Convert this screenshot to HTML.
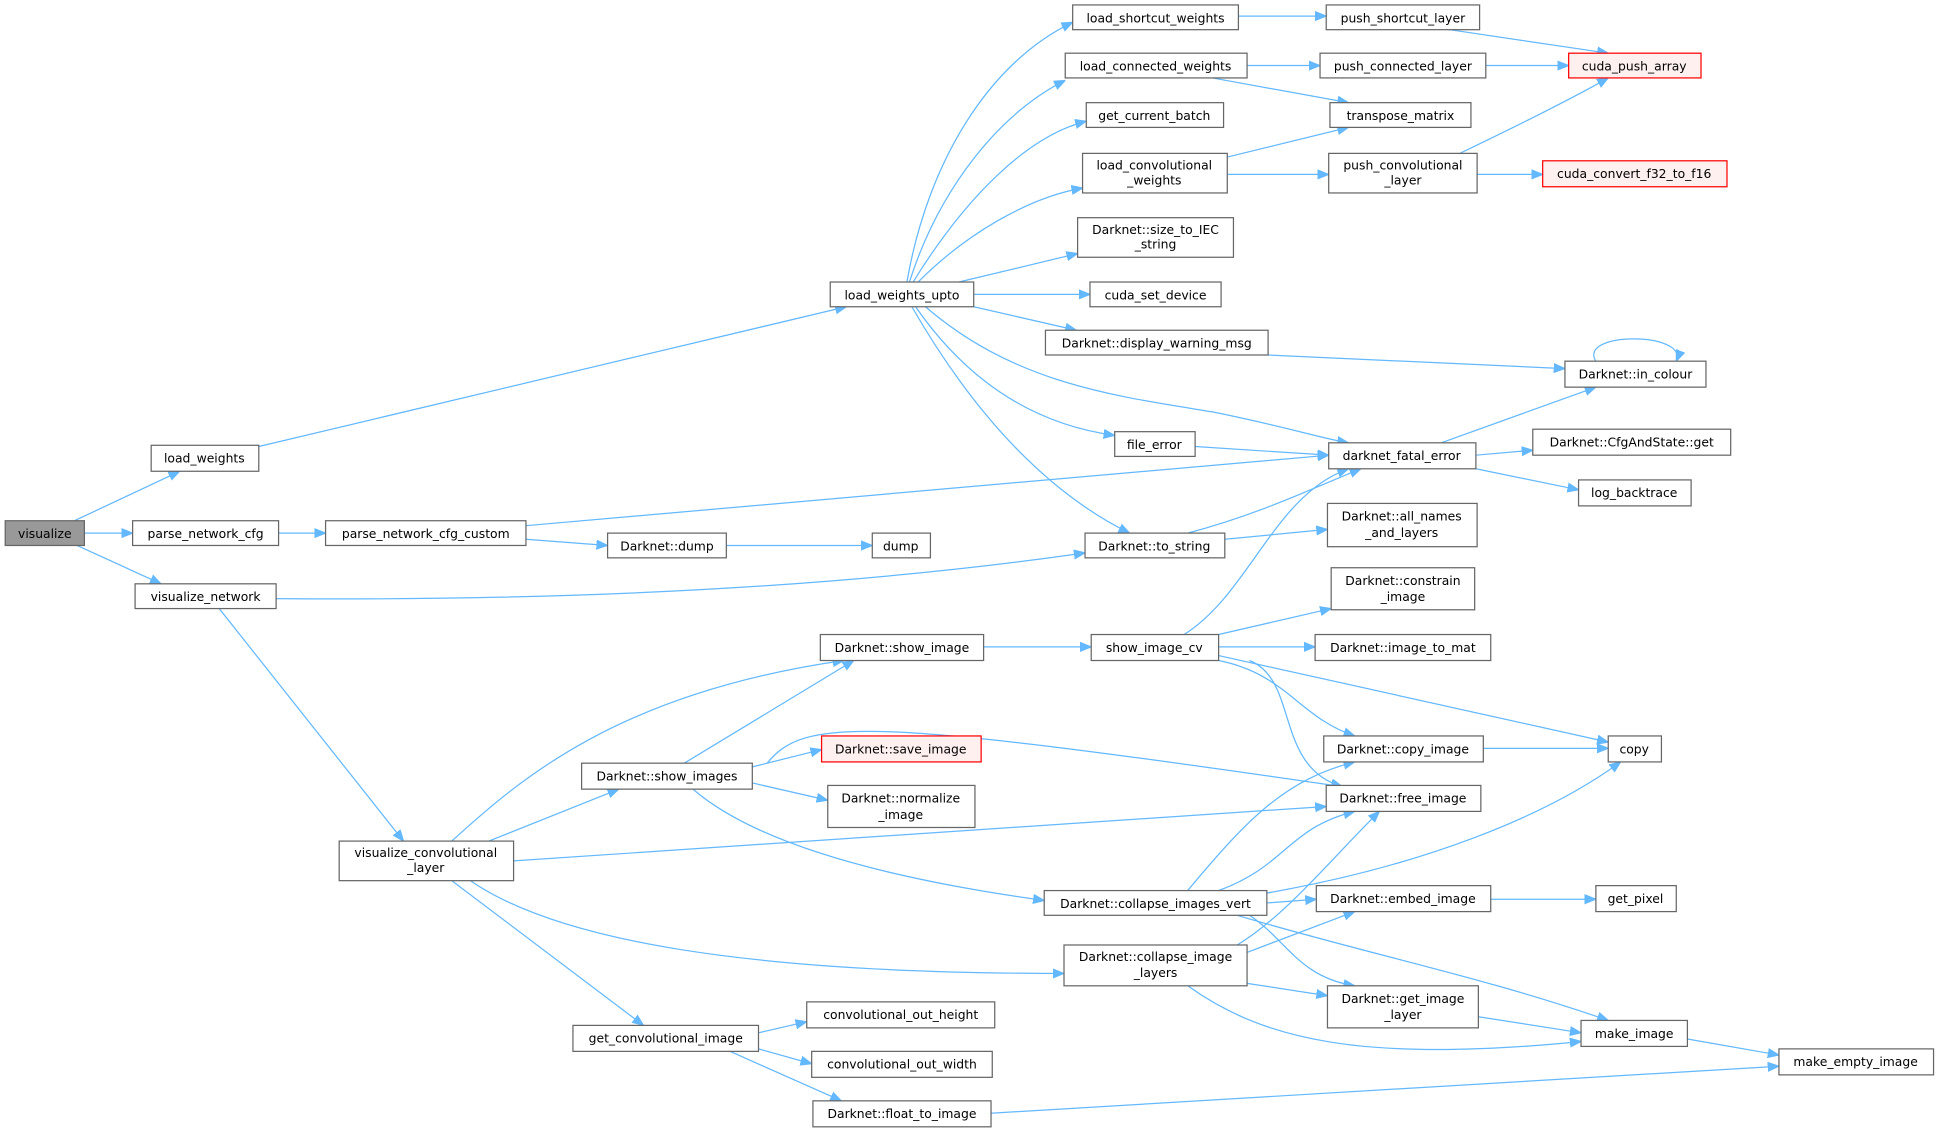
<!DOCTYPE html>
<html><head><meta charset="utf-8"><style>
html,body{margin:0;padding:0;background:#fff;}
svg{display:block;}
text{font-family:"DejaVu Sans","Liberation Sans",sans-serif;font-size:10px;fill:#000;text-anchor:middle;}
.n{fill:#fff;stroke:#666;stroke-width:1;}
.r{fill:#fff0f0;stroke:#f00;stroke-width:1;}
.g{fill:#999;stroke:#666;stroke-width:1;}
path{fill:none;stroke:#63b8ff;stroke-width:1;}
</style></head><body>
<svg width="1940" height="1133" viewBox="0 0 1568 916" xmlns="http://www.w3.org/2000/svg">
<defs><marker id="a" viewBox="0 0 10 10" refX="10" refY="5" markerWidth="9" markerHeight="9" markerUnits="userSpaceOnUse" orient="auto"><path d="M0,1 L10,5 L0,9 z" style="fill:#63b8ff;stroke:#63b8ff"/></marker></defs>
<g marker-end="url(#a)">
<path d="M60,421 L145,381"/>
<path d="M68,431 L107,431"/>
<path d="M62,441 L130,472"/>
<path d="M209,361 L684,248"/>
<path d="M225,431 L263,431"/>
<path d="M425,425 L1074,368"/>
<path d="M425,436 L491,441"/>
<path d="M587,441 L705,441"/>
<path d="M223,484 Q600,487 877,447"/>
<path d="M177,492 L326,680"/>
<path d="M733,228 C750,130 800,50 867,18"/>
<path d="M735,228 C760,150 810,90 861,65"/>
<path d="M738,228 C780,160 830,110 878,98"/>
<path d="M742,228 C780,190 830,160 875,152"/>
<path d="M775,228 L871,205"/>
<path d="M787,238 L881,238"/>
<path d="M787,248 L870,267"/>
<path d="M748,248 C820,310 900,320 980,333 C1040,345 1070,355 1090,358"/>
<path d="M740,248 C790,320 850,345 901,352"/>
<path d="M737,248 C790,340 850,400 913,431"/>
<path d="M1001,13 L1072,13"/>
<path d="M1008,53 L1067,53"/>
<path d="M980,63 L1090,83"/>
<path d="M992,127 L1090,103"/>
<path d="M992,141 L1074,141"/>
<path d="M1165,23 L1300,43"/>
<path d="M1201,53 L1268,53"/>
<path d="M1180,124 C1230,100 1270,80 1300,63"/>
<path d="M1194,141 L1247,141"/>
<path d="M1025,287 L1265,298"/>
<path d="M1290,292 C1275,268 1365,268 1355,292"/>
<path d="M1165,358 L1290,313"/>
<path d="M1193,368 L1239,364"/>
<path d="M1193,379 L1276,396"/>
<path d="M966,361 L1074,368"/>
<path d="M960,431 C1020,415 1060,395 1100,379"/>
<path d="M990,436 L1073,428"/>
<path d="M957,513 C1010,480 1030,400 1090,379"/>
<path d="M985,513 L1076,492"/>
<path d="M985,523 L1063,523"/>
<path d="M985,530 L1300,600"/>
<path d="M985,534 C1040,545 1050,580 1095,595"/>
<path d="M1010,534 C1050,550 1030,620 1085,636"/>
<path d="M795,523 L882,523"/>
<path d="M553,617 L690,534"/>
<path d="M608,620 L664,606"/>
<path d="M608,633 L669,647"/>
<path d="M620,617 C650,580 700,580 1085,636"/>
<path d="M560,638 C620,690 750,715 844,728"/>
<path d="M365,680 C420,630 500,560 682,534"/>
<path d="M395,680 L500,638"/>
<path d="M415,696 L1072,652"/>
<path d="M380,712 C450,760 600,787 860,787"/>
<path d="M365,712 L520,829"/>
<path d="M1199,605 L1300,605"/>
<path d="M960,720 C1010,660 1040,630 1095,616"/>
<path d="M985,720 C1040,700 1040,670 1095,656"/>
<path d="M1024,722 C1150,700 1250,660 1310,616"/>
<path d="M1024,730 L1064,727"/>
<path d="M1010,740 C1040,760 1050,790 1095,797"/>
<path d="M1000,740 C1100,770 1200,790 1300,825"/>
<path d="M1000,764 C1040,740 1080,690 1115,656"/>
<path d="M1008,770 L1095,737"/>
<path d="M1008,795 L1073,805"/>
<path d="M960,797 C1020,840 1100,860 1278,842"/>
<path d="M1205,727 L1290,727"/>
<path d="M1195,822 L1278,835"/>
<path d="M1364,840 L1438,853"/>
<path d="M613,835 L652,826"/>
<path d="M613,848 L656,860"/>
<path d="M590,850 L680,890"/>
<path d="M801,900 L1438,862"/>
</g>
<g>
<rect class="g" x="4" y="421" width="64" height="20"/><text x="36" y="435">visualize</text>
<rect class="n" x="122" y="360" width="87" height="21"/><text x="165" y="374">load_weights</text>
<rect class="n" x="107" y="421" width="118" height="20"/><text x="166" y="435">parse_network_cfg</text>
<rect class="n" x="109" y="472" width="114" height="20"/><text x="166" y="486">visualize_network</text>
<rect class="n" x="263" y="421" width="162" height="20"/><text x="344" y="435">parse_network_cfg_custom</text>
<rect class="n" x="491" y="431" width="96" height="20"/><text x="539" y="445">Darknet::dump</text>
<rect class="n" x="705" y="431" width="47" height="20"/><text x="728" y="445">dump</text>
<rect class="n" x="671" y="228" width="116" height="20"/><text x="729" y="242">load_weights_upto</text>
<rect class="n" x="867" y="4" width="134" height="20"/><text x="934" y="18">load_shortcut_weights</text>
<rect class="n" x="861" y="43" width="147" height="20"/><text x="934" y="57">load_connected_weights</text>
<rect class="n" x="878" y="83" width="111" height="20"/><text x="933" y="97">get_current_batch</text>
<rect class="n" x="875" y="124" width="117" height="32"/><text x="933" y="137">load_convolutional</text><text x="933" y="149">_weights</text>
<rect class="n" x="871" y="176" width="126" height="32"/><text x="934" y="189">Darknet::size_to_IEC</text><text x="934" y="201">_string</text>
<rect class="n" x="881" y="228" width="106" height="20"/><text x="934" y="242">cuda_set_device</text>
<rect class="n" x="845" y="267" width="180" height="20"/><text x="935" y="281">Darknet::display_warning_msg</text>
<rect class="n" x="901" y="349" width="65" height="20"/><text x="933" y="363">file_error</text>
<rect class="n" x="877" y="431" width="113" height="20"/><text x="933" y="445">Darknet::to_string</text>
<rect class="n" x="1072" y="4" width="124" height="20"/><text x="1134" y="18">push_shortcut_layer</text>
<rect class="n" x="1067" y="43" width="134" height="20"/><text x="1134" y="57">push_connected_layer</text>
<rect class="n" x="1075" y="83" width="114" height="20"/><text x="1132" y="97">transpose_matrix</text>
<rect class="n" x="1074" y="124" width="120" height="32"/><text x="1134" y="137">push_convolutional</text><text x="1134" y="149">_layer</text>
<rect class="r" x="1268" y="43" width="107" height="20"/><text x="1321" y="57">cuda_push_array</text>
<rect class="r" x="1247" y="130" width="149" height="21"/><text x="1321" y="144">cuda_convert_f32_to_f16</text>
<rect class="n" x="1265" y="292" width="114" height="21"/><text x="1322" y="306">Darknet::in_colour</text>
<rect class="n" x="1074" y="358" width="119" height="21"/><text x="1133" y="372">darknet_fatal_error</text>
<rect class="n" x="1239" y="347" width="160" height="21"/><text x="1319" y="361">Darknet::CfgAndState::get</text>
<rect class="n" x="1276" y="388" width="91" height="21"/><text x="1321" y="402">log_backtrace</text>
<rect class="n" x="1073" y="407" width="121" height="35"/><text x="1133" y="421">Darknet::all_names</text><text x="1133" y="434">_and_layers</text>
<rect class="n" x="1076" y="459" width="116" height="34"/><text x="1134" y="473">Darknet::constrain</text><text x="1134" y="486">_image</text>
<rect class="n" x="1063" y="513" width="142" height="21"/><text x="1134" y="527">Darknet::image_to_mat</text>
<rect class="n" x="882" y="513" width="103" height="21"/><text x="933" y="527">show_image_cv</text>
<rect class="n" x="663" y="513" width="132" height="21"/><text x="729" y="527">Darknet::show_image</text>
<rect class="n" x="1300" y="595" width="43" height="21"/><text x="1321" y="609">copy</text>
<rect class="n" x="1070" y="595" width="129" height="21"/><text x="1134" y="609">Darknet::copy_image</text>
<rect class="r" x="664" y="595" width="129" height="21"/><text x="728" y="609">Darknet::save_image</text>
<rect class="n" x="470" y="617" width="138" height="21"/><text x="539" y="631">Darknet::show_images</text>
<rect class="n" x="669" y="635" width="119" height="34"/><text x="728" y="649">Darknet::normalize</text><text x="728" y="662">_image</text>
<rect class="n" x="1072" y="635" width="125" height="21"/><text x="1134" y="649">Darknet::free_image</text>
<rect class="n" x="274" y="680" width="141" height="32"/><text x="344" y="693">visualize_convolutional</text><text x="344" y="705">_layer</text>
<rect class="n" x="844" y="720" width="180" height="20"/><text x="934" y="734">Darknet::collapse_images_vert</text>
<rect class="n" x="1064" y="716" width="141" height="21"/><text x="1134" y="730">Darknet::embed_image</text>
<rect class="n" x="1290" y="716" width="65" height="21"/><text x="1322" y="730">get_pixel</text>
<rect class="n" x="860" y="764" width="148" height="33"/><text x="934" y="777">Darknet::collapse_image</text><text x="934" y="790">_layers</text>
<rect class="n" x="1073" y="797" width="122" height="34"/><text x="1134" y="811">Darknet::get_image</text><text x="1134" y="824">_layer</text>
<rect class="n" x="1278" y="825" width="86" height="21"/><text x="1321" y="839">make_image</text>
<rect class="n" x="1438" y="848" width="125" height="21"/><text x="1500" y="862">make_empty_image</text>
<rect class="n" x="463" y="829" width="150" height="21"/><text x="538" y="843">get_convolutional_image</text>
<rect class="n" x="652" y="810" width="152" height="21"/><text x="728" y="824">convolutional_out_height</text>
<rect class="n" x="656" y="850" width="146" height="21"/><text x="729" y="864">convolutional_out_width</text>
<rect class="n" x="657" y="890" width="144" height="21"/><text x="729" y="904">Darknet::float_to_image</text>
</g>
</svg>
</body></html>
